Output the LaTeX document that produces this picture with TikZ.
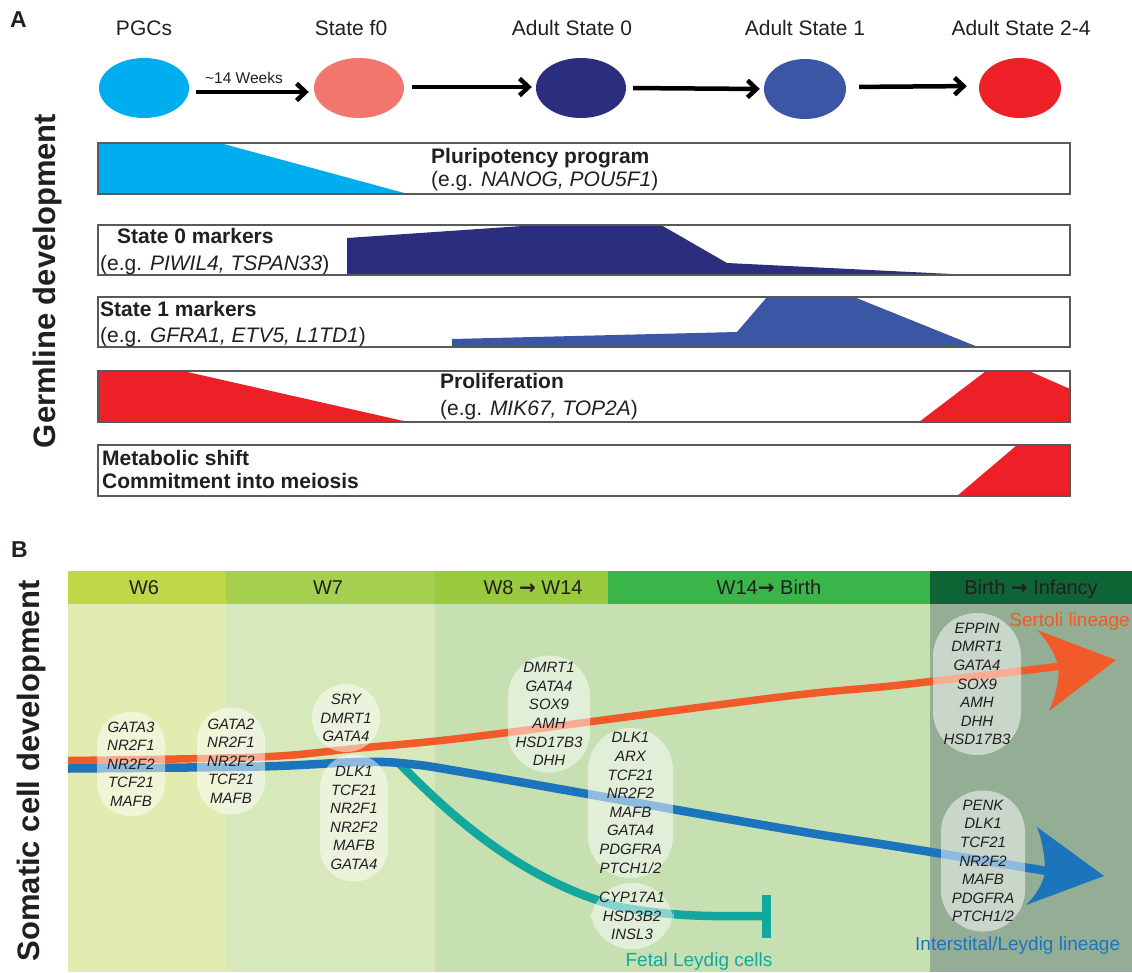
\documentclass[tikz,border=0pt]{standalone}
\usepackage{fontspec}
\setmainfont{Liberation Sans}
\newfontfamily\djv{DejaVu Sans}
\usetikzlibrary{arrows.meta,shapes.geometric}
\definecolor{txt}{HTML}{231F20}
\definecolor{cPGC}{HTML}{00AEEF}
\definecolor{cFz}{HTML}{F2766E}
\definecolor{cAz}{HTML}{2B2E7E}
\definecolor{cAo}{HTML}{3A56A5}
\definecolor{cAt}{HTML}{ED2027}
\definecolor{bord}{HTML}{58595B}
\definecolor{hWsix}{HTML}{C0D848}
\definecolor{hWseven}{HTML}{A6CF50}
\definecolor{hWeight}{HTML}{99C93D}
\definecolor{hWfourteen}{HTML}{3AB54A}
\definecolor{hBirth}{HTML}{0F6436}
\definecolor{bWsix}{HTML}{E4EBB1}
\definecolor{bWseven}{HTML}{D7E8BB}
\definecolor{bMid}{HTML}{C6E0B2}
\definecolor{bLast}{HTML}{94AE96}
\definecolor{cS}{HTML}{F15A29}
\definecolor{cI}{HTML}{1C75BC}
\definecolor{cF}{HTML}{13A89E}
\begin{document}
\begin{tikzpicture}[x=1pt,y=-1pt,
  toplabel/.style={font=\fontsize{21}{25}\selectfont, text=txt, anchor=base, inner sep=0},
  cellnode/.style={ellipse, draw=none, minimum width=#1, minimum height=60, inner sep=0},
  bigarrow/.style={line width=4.5pt, -{Straight Barb[length=9pt,width=17pt]}},
  bar/.style={draw=bord, line width=1.5pt},
  bartitle/.style={font=\fontsize{21}{25}\selectfont\bfseries, text=txt, anchor=base west, inner sep=0},
  bartext/.style={font=\fontsize{21}{25}\selectfont, text=txt, anchor=base west, inner sep=0},
  panel/.style={font=\fontsize{23}{27}\selectfont\bfseries, text=txt, anchor=base west, inner sep=0},
  sidelabel/.style={font=\fontsize{31}{36}\selectfont\bfseries, text=txt, anchor=base, rotate=90, inner sep=0},
  hdr/.style={font=\fontsize{20}{24}\selectfont, text=txt, anchor=base, inner sep=0},
  lin/.style={line width=#1, line cap=butt},
  pill/.style={fill=white, fill opacity=0.5, text opacity=1, rounded corners=#1, inner sep=0,
    align=center, font=\fontsize{15}{18.6}\selectfont\itshape, text=txt},
  lineage/.style={font=\fontsize{19}{23}\selectfont, inner sep=0}
]
\useasboundingbox (0,0) rectangle (1132,972);
\fill[white] (0,0) rectangle (1132,972);

% ---------------- Panel A ----------------
\node[panel] (labA) at (10,27) {A};
\node[sidelabel] (germ) at (55,281) {Germline development};

\node[toplabel] (tPGC) at (144,35) {PGCs};
\node[toplabel] (tF) at (351,35) {State f0};
\node[toplabel] (tA0) at (572,35) {Adult State 0};
\node[toplabel] (tA1) at (805,35) {Adult State 1};
\node[toplabel] (tA2) at (1021,35) {Adult State 2-4};

\node[cellnode=90, fill=cPGC] (pgc) at (144,88) {};
\node[cellnode=90, fill=cFz] (sf) at (359,88) {};
\node[cellnode=90, fill=cAz] (a0) at (581,88) {};
\node[cellnode=82, fill=cAo] (a1) at (805,89) {};
\node[cellnode=82, fill=cAt] (a2) at (1020,88) {};

\draw[bigarrow, shorten <=7pt, shorten >=5pt] ([yshift=-4pt]pgc.east) -- ([yshift=-4pt]sf.west);
\node[font=\fontsize{15.5}{18}\selectfont, text=txt, anchor=base, inner sep=0] (wk) at (244,83) {\textasciitilde14 Weeks};
\draw[bigarrow, shorten <=8pt, shorten >=4pt] ([yshift=1pt]sf.east) -- ([yshift=1pt]a0.west);
\draw[bigarrow, shorten <=7pt, shorten >=4pt] (a0.east) -- (a1.west);
\draw[bigarrow, shorten <=13pt, shorten >=12pt] ([yshift=2pt]a1.east) -- ([yshift=2pt]a2.west);

% bars
\fill[white] (98,143) rectangle (1070,194);
\fill[cPGC] (98,143) -- (220,143) -- (408,194) -- (98,194) -- cycle;
\draw[bar] (98,143) rectangle (1070,194);
\node[bartitle] (b1t) at (431,163) {Pluripotency program};
\node[bartext] (b1e) at (431,186) {(e.g. \textit{NANOG, POU5F1})};

\fill[cAz] (347,275) -- (347,238) -- (537,225) -- (661,225) -- (727,263) -- (972,275) -- cycle;
\draw[bar] (98,225) rectangle (1070,275);
\node[bartitle] (b2t) at (117,243) {State 0 markers};
\node[bartext] (b2e) at (100,270) {(e.g. \textit{PIWIL4, TSPAN33})};

\fill[cAo] (452,347) -- (452,339) -- (737,332) -- (767,297) -- (854,297) -- (978,347) -- cycle;
\draw[bar] (98,297) rectangle (1070,347);
\node[bartitle] (b3t) at (100,316) {State 1 markers};
\node[bartext] (b3e) at (100,342) {(e.g. \textit{GFRA1, ETV5, L1TD1})};

\fill[cAt] (98,371) -- (183,371) -- (408,422) -- (98,422) -- cycle;
\fill[cAt] (919,422) -- (986,371) -- (1029,371) -- (1070,389) -- (1070,422) -- cycle;
\draw[bar] (98,371) rectangle (1070,422);
\node[bartitle] (b4t) at (440,388) {Proliferation};
\node[bartext] (b4e) at (440,415) {(e.g. \textit{MIK67, TOP2A})};

\fill[cAt] (957,496) -- (1017,445) -- (1070,445) -- (1070,496) -- cycle;
\draw[bar] (98,445) rectangle (1070,496);
\node[bartitle] (b5t) at (102,465) {Metabolic shift};
\node[bartitle] (b5e) at (102,488) {Commitment into meiosis};

% ---------------- Panel B ----------------
\node[panel] (labB) at (11,557) {B};
\node[sidelabel] (soma) at (39,771) {Somatic cell development};

\fill[hWsix] (68,571) rectangle (226,604);
\fill[hWseven] (226,571) rectangle (435,604);
\fill[hWeight] (435,571) rectangle (608,604);
\fill[hWfourteen] (608,571) rectangle (930,604);
\fill[hBirth] (930,571) rectangle (1132,604);
\fill[bWsix] (68,604) rectangle (226,972);
\fill[bWseven] (226,604) rectangle (435,972);
\fill[bMid] (435,604) rectangle (930,972);
\fill[bLast] (930,604) rectangle (1132,972);

\node[hdr] (h6) at (144,594) {W6};
\node[hdr] (h7) at (328,594) {W7};
\node[hdr] (h8) at (533,594) {W8 {\djv\bfseries →} W14};
\node[hdr] (h14) at (769,594) {W14{\djv\bfseries →} Birth};
\node[hdr] (hb) at (1031,594) {Birth {\djv\bfseries →} Infancy};

% lineages
\coordinate (fStart) at (398,762);
\coordinate (fEnd) at (766,916);
\draw[cF, lin=8.5pt] (fStart) .. controls (450,815) and (520,880) .. (620,907) .. controls (680,918) and (720,916) .. (fEnd);
\draw[cF, line width=9pt] ([yshift=21pt]fEnd) -- ([yshift=-22pt]fEnd);

\draw[cS, lin=7.5pt] plot[smooth, tension=0.55] coordinates {(68,760.5) (260,757) (360,748) (480,736) (780,697) (900,685) (1062,666)};
\fill[cS] (1037,630) -- (1116,660) -- (1049,711) .. controls (1057,692) and (1060,678) .. (1058,665) .. controls (1054,652) and (1047,640) .. cycle;

\draw[cI, lin=8.5pt] plot[smooth, tension=0.55] coordinates {(68,768.5) (260,766.5) (360,762) (410,764) (480,775) (780,828) (900,847) (1047,871)};
\fill[cI] (1037,827) -- (1104,876) -- (1026,905) .. controls (1036,895) and (1043,884) .. (1045,872) .. controls (1045,855) and (1042,840) .. cycle;

% marker pills
\node[pill=33.5pt, minimum width=68, minimum height=104] (p1) at (131,764) {GATA3\\NR2F1\\NR2F2\\TCF21\\MAFB};
\node[pill=33.5pt, minimum width=68, minimum height=107] (p2) at (231,761) {GATA2\\NR2F1\\NR2F2\\TCF21\\MAFB};
\node[pill=33.5pt, minimum width=68, minimum height=68] (p3) at (346,718) {SRY\\DMRT1\\GATA4};
\node[pill=33.5pt, minimum width=68, minimum height=127] (p4) at (354,818) {DLK1\\TCF21\\NR2F1\\NR2F2\\MAFB\\GATA4};
\node[pill=40.5pt, minimum width=82, minimum height=117] (p5) at (549,714) {DMRT1\\GATA4\\SOX9\\AMH\\HSD17B3\\DHH};
\node[pill=42pt, minimum width=85, minimum height=150] (p6) at (630.5,803) {DLK1\\ARX\\TCF21\\NR2F2\\MAFB\\GATA4\\PDGFRA\\PTCH1/2};
\node[pill=41pt, minimum width=83, minimum height=66] (p7) at (632,916) {CYP17A1\\HSD3B2\\INSL3};
\node[pill=43.5pt, minimum width=88, minimum height=142] (p8) at (977,684) {EPPIN\\DMRT1\\GATA4\\SOX9\\AMH\\DHH\\HSD17B3};
\node[pill=41.5pt, minimum width=84, minimum height=141] (p9) at (983,861) {PENK\\DLK1\\TCF21\\NR2F2\\MAFB\\PDGFRA\\PTCH1/2};

\node[lineage, text=cS, anchor=base east] (lS) at (1130,626) {Sertoli lineage};
\node[lineage, text=cI, anchor=base west] (lI) at (915,950) {Interstital/Leydig lineage};
\node[lineage, text=cF, anchor=base] (lF) at (699,966) {Fetal Leydig cells};
\end{tikzpicture}
\end{document}
